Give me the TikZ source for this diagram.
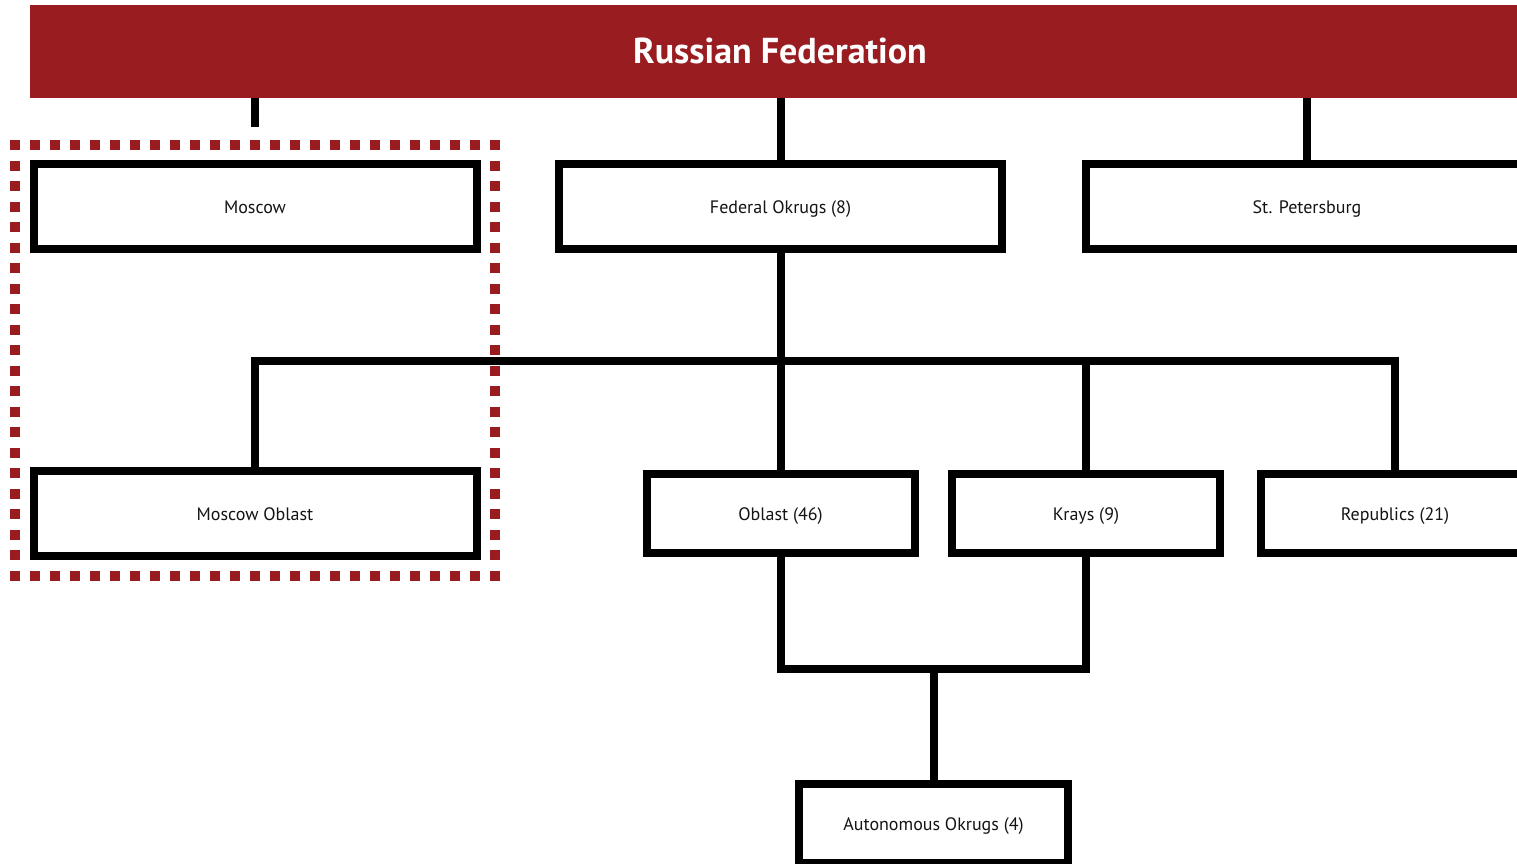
\documentclass[tikz,border=0pt]{standalone}
\usepackage{fontspec}
\setmainfont{PT Sans}
\definecolor{rfred}{RGB}{152,28,32}
\definecolor{ink}{RGB}{20,20,20}
\begin{document}
\begin{tikzpicture}[x=1pt,y=-1pt,
  unit/.style={draw=black, line width=8pt, fill=white, inner sep=0pt, outer sep=0pt,
    text=ink, font=\fontsize{18}{20}\selectfont, text height=16pt, text depth=3pt},
  widebox/.style={unit, minimum width=443pt, minimum height=85pt},
  smallbox/.style={unit, minimum width=268pt, minimum height=79pt},
  link/.style={line width=8pt, line join=miter, line cap=rect},
  hdots/.style={draw=rfred, line width=10pt, dash pattern=on 10pt off 10pt},
  vdots/.style={draw=rfred, line width=10pt, dash pattern=on 10pt off 10.52pt}]
\useasboundingbox (0,0) rectangle (1517,864);
\clip (0,0) rectangle (1517,864);

% highlighted capital region: each side runs half a square past the corners,
% so every corner carries a full square
\coordinate (ftl) at (15,145);
\coordinate (fbr) at (495,576);
\draw[hdots] ([xshift=-5pt]ftl) -- ([xshift=5pt]ftl -| fbr);
\draw[hdots] ([xshift=-5pt]ftl |- fbr) -- ([xshift=5pt]fbr);
\draw[vdots] ([yshift=5pt]ftl) -- ([yshift=-5pt]ftl |- fbr);
\draw[vdots] ([yshift=5pt]ftl -| fbr) -- ([yshift=-5pt]fbr);

% banner
\node[fill=rfred, minimum width=1500pt, minimum height=93pt, inner sep=0pt, outer sep=0pt,
  text=white, font=\fontsize{36}{40}\selectfont\bfseries,
  text height=30pt, text depth=6pt] (rf) at (780,51.5) {Russian Federation};

% first level
\node[widebox] (mos) at (255,206.5) {Moscow};
\node[widebox] (fed) at (780.5,206.5) {Federal Okrugs (8)};
\node[widebox] (spb) at (1307,206.5) {St. Petersburg};

% second level
\node[widebox] (mob) at (255,513.5) {Moscow Oblast};
\node[smallbox] (obl) at (780.5,513.5) {Oblast (46)};
\node[smallbox] (kra) at (1086,513.5) {Krays (9)};
\node[smallbox] (rep) at (1395,513.5) {Republics (21)};

% third level
\node[smallbox, minimum width=269pt] (ao) at (933.5,823.5) {Autonomous Okrugs (4)};

\coordinate (mosstub) at (255,127);
\coordinate (bar) at (780.5,360.5);
\coordinate (low) at (933.5,669);

% connectors
\draw[link, line cap=butt] (rf.south -| mos.north) -- (mosstub);
\draw[link, line cap=butt] (rf.south -| fed.north) -- (fed.north);
\draw[link, line cap=butt] (rf.south -| spb.north) -- (spb.north);
\draw[link, line cap=butt] (fed.south) -- (obl.north);
\draw[link] (mob.north) -- (mob.north |- bar) -- (rep.north |- bar) -- (rep.north);
\draw[link, line cap=butt] (kra.north |- bar) -- (kra.north);
\draw[link] (obl.south) -- (obl.south |- low) -- (kra.south |- low) -- (kra.south);
\draw[link, line cap=butt] (low) -- (ao.north);
\end{tikzpicture}
\end{document}
